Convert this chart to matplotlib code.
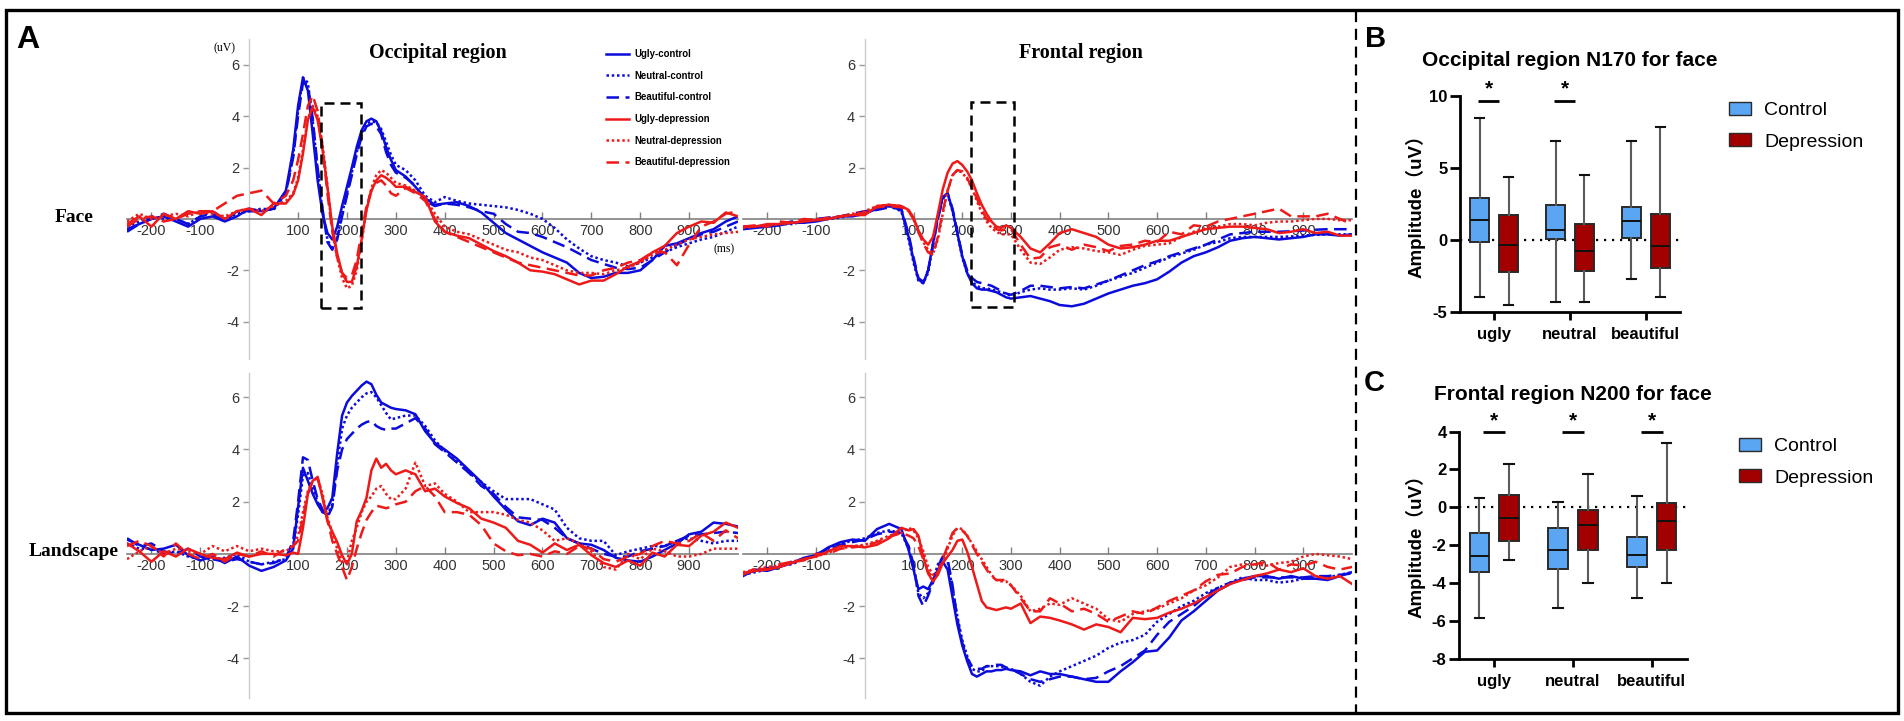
import matplotlib
matplotlib.use("Agg")
import matplotlib.pyplot as plt
from matplotlib.patches import Rectangle, Patch
from matplotlib.lines import Line2D

plt.rcParams['font.family'] = ['Liberation Sans', 'DejaVu Sans']
plt.rcParams['axes.unicode_minus'] = False

W, H = 1904, 721
NARROW = ['Liberation Sans Narrow', 'Liberation Sans', 'DejaVu Sans']
SERIF = ['Liberation Serif', 'DejaVu Serif']
BLUE = '#0b0bdc'
RED = '#ee1a1a'
CTRL = '#5aa6f2'
DEP = '#a20000'

# time points (ms)
t = [-250, -225, -200, -175, -150, -125, -100, -75, -50, -25, 0, 25, 50, 75,
     90, 100, 110, 120, 130, 140, 150, 160, 170, 180, 190, 200, 210, 220, 230, 240, 250, 260, 270, 280, 290, 300,
     320, 340, 360, 380, 400,
     425, 450, 475, 500, 525, 550, 575, 600, 625, 650, 675, 700, 725, 750, 775, 800, 825, 850, 875, 900, 925, 950, 975, 1000]

# occipital region, face (uV)
of_uc = [-0.4, -0.2, 0.0, 0.1, -0.1, -0.3, 0.0, 0.1, -0.1, 0.1, 0.4, 0.3, 0.4, 1.1,
         2.7, 4.4, 5.5, 5.0, 3.3, 1.5, 0.2, -0.55, -0.8, -0.3, 0.5, 1.25, 2.0, 2.8, 3.45, 3.8, 3.9, 3.8, 3.4, 2.8, 2.3, 1.9,
         1.65, 1.25, 0.8, 0.55, 0.6,
         0.65, 0.5, 0.25, -0.15, -0.55, -0.8, -1.05, -1.3, -1.5, -1.7, -2.1, -2.3, -2.25, -2.1, -2.1, -2.0, -1.6, -1.05, -0.95, -0.75, -0.55, -0.4, -0.1, 0.1]
of_nc = [-0.3, -0.1, 0.1, 0.0, 0.0, -0.2, 0.1, 0.3, 0.0, 0.2, 0.3, 0.4, 0.35, 1.0,
         2.5, 4.2, 5.5, 5.3, 3.8, 1.9, 0.3, -0.8, -1.2, -0.7, 0.2, 1.0, 1.8, 2.6, 3.3, 3.7, 3.8, 3.75, 3.5, 3.0, 2.5, 2.1,
         1.9, 1.5, 0.9, 0.65, 0.85,
         0.7, 0.6, 0.55, 0.5, 0.45, 0.35, 0.2, 0.0, -0.35, -0.8, -1.15, -1.45, -1.6, -1.7, -1.85, -1.7, -1.5, -1.3, -1.1, -0.95, -0.8, -0.7, -0.5, -0.3]
of_bc = [-0.5, -0.2, 0.0, 0.2, 0.0, -0.2, 0.1, 0.2, -0.1, 0.3, 0.3, 0.3, 0.4, 1.0,
         2.4, 4.0, 5.3, 5.2, 3.9, 2.0, 0.4, -0.9, -1.2, -0.8, 0.1, 0.9, 1.7, 2.5, 3.2, 3.6, 3.7, 3.6, 3.3, 2.6, 2.1, 1.8,
         1.6, 1.3, 0.7, 0.5, 0.6,
         0.55, 0.45, 0.3, 0.2, -0.2, -0.5, -0.55, -0.7, -0.9, -1.1, -1.35, -1.6, -1.75, -1.9, -1.95, -1.9, -1.6, -1.3, -1.0, -0.8, -0.6, -0.5, -0.3, -0.1]
of_ud = [-0.2, 0.1, -0.3, 0.2, 0.0, 0.3, 0.2, 0.3, 0.0, 0.3, 0.4, 0.15, 0.6, 0.6,
         0.95, 1.5, 2.55, 3.85, 4.35, 3.85, 2.7, 1.25, -0.3, -1.35, -2.1, -2.45, -2.45, -1.85, -0.8, 0.35, 1.1, 1.5, 1.7, 1.6, 1.45, 1.25,
         1.25, 1.05, 0.85, -0.1, -0.5,
         -0.65, -0.75, -1.0, -1.25, -1.45, -1.7, -2.0, -2.05, -2.15, -2.35, -2.55, -2.4, -2.4, -2.15, -1.85, -1.65, -1.3, -1.05, -0.55, -0.3, -0.1, -0.15, 0.25, 0.1]
of_nd = [-0.1, 0.2, 0.0, 0.1, 0.2, 0.1, 0.3, 0.2, 0.1, 0.3, 0.4, 0.3, 0.5, 0.7,
         1.0, 1.6, 2.7, 3.9, 4.4, 4.0, 2.9, 1.3, -0.4, -1.5, -2.3, -2.7, -2.6, -2.0, -0.9, 0.4, 1.2, 1.7, 1.9, 1.8, 1.6, 1.4,
         1.3, 1.1, 0.8, 0.2, -0.3,
         -0.5, -0.6, -0.8, -1.0, -1.2, -1.3, -1.5, -1.6, -1.8, -2.0, -2.1, -2.1, -2.15, -2.0, -1.9, -1.7, -1.4, -1.2, -1.0, -0.8, -0.7, -0.6, -0.55, -0.5]
of_bd = [-0.3, 0.0, 0.1, -0.1, 0.0, 0.2, 0.3, 0.3, 0.6, 0.9, 1.0, 1.1, 0.6, 0.9,
         1.5, 2.3, 3.3, 4.4, 4.8, 4.2, 2.8, 1.0, -0.5, -1.5, -2.1, -2.3, -2.2, -1.6, -0.5, 0.5, 1.1, 1.4, 1.5, 1.3, 1.0, 0.9,
         1.2, 1.0, 0.7, 0.0, -0.5,
         -0.7, -0.9, -1.1, -1.3, -1.5, -1.7, -1.8, -1.9, -2.0, -2.1, -2.2, -2.2, -2.0, -1.9, -1.7, -1.6, -1.3, -1.3, -1.8, -1.0, -0.3, -0.1, 0.2, 0.3]

# frontal region, face (uV)
ff_uc = [-0.4, -0.35, -0.3, -0.25, -0.15, -0.15, -0.1, 0.0, 0.1, 0.1, 0.2, 0.4, 0.5, 0.35,
         -0.7, -1.6, -2.35, -2.5, -2.0, -0.95, 0.1, 0.85, 1.0, 0.35, -0.55, -1.45, -2.1, -2.5, -2.7, -2.75, -2.75, -2.8, -2.85, -2.95, -3.05, -3.1,
         -3.05, -3.0, -3.1, -3.2, -3.35,
         -3.4, -3.3, -3.1, -2.9, -2.75, -2.6, -2.5, -2.35, -2.05, -1.7, -1.45, -1.3, -1.1, -0.85, -0.75, -0.7, -0.75, -0.8, -0.75, -0.7, -0.6, -0.6, -0.65, -0.6]
ff_nc = [-0.35, -0.3, -0.3, -0.2, -0.2, -0.1, -0.05, 0.0, 0.05, 0.15, 0.25, 0.4, 0.5, 0.3,
         -0.8, -1.7, -2.4, -2.5, -2.1, -1.0, 0.05, 0.8, 0.95, 0.3, -0.6, -1.5, -2.1, -2.45, -2.6, -2.7, -2.7, -2.75, -2.8, -2.85, -2.9, -3.0,
         -2.85, -2.75, -2.7, -2.75, -2.75,
         -2.7, -2.75, -2.6, -2.4, -2.25, -2.1, -1.9, -1.7, -1.5, -1.35, -1.2, -1.0, -0.9, -0.75, -0.7, -0.7, -0.7, -0.7, -0.68, -0.65, -0.62, -0.6, -0.6, -0.6]
ff_bc = [-0.3, -0.3, -0.25, -0.2, -0.1, -0.1, 0.0, 0.05, 0.1, 0.2, 0.3, 0.35, 0.45, 0.4,
         -0.6, -1.5, -2.3, -2.45, -2.0, -1.0, 0.0, 0.8, 1.0, 0.4, -0.5, -1.4, -2.0, -2.3, -2.45, -2.5, -2.55, -2.6, -2.7, -2.8, -2.9, -2.95,
         -2.8, -2.6, -2.6, -2.65, -2.7,
         -2.65, -2.7, -2.55, -2.4, -2.2, -2.0, -1.8, -1.65, -1.45, -1.3, -1.15, -1.0, -0.8, -0.6, -0.55, -0.5, -0.5, -0.5, -0.48, -0.45, -0.42, -0.4, -0.4, -0.4]
ff_ud = [-0.3, -0.3, -0.2, -0.2, -0.15, -0.1, -0.05, 0.0, 0.1, 0.15, 0.15, 0.5, 0.55, 0.5,
         0.35, 0.05, -0.45, -0.8, -1.0, -0.7, 0.2, 1.15, 1.8, 2.15, 2.25, 2.1, 1.85, 1.5, 1.0, 0.55, 0.2, -0.1, -0.3, -0.35, -0.25, -0.35,
         -0.7, -1.15, -1.3, -0.95, -0.55,
         -0.4, -0.55, -0.7, -1.0, -1.15, -1.1, -1.0, -0.85, -0.85, -0.7, -0.55, -0.4, -0.35, -0.3, -0.3, -0.35, -0.4, -0.55, -0.5, -0.4, -0.55, -0.5, -0.65, -0.65]
ff_nd = [-0.35, -0.3, -0.25, -0.2, -0.15, -0.1, 0.0, 0.0, 0.1, 0.2, 0.3, 0.5, 0.55, 0.5,
         0.3, 0.0, -0.5, -0.9, -1.2, -1.35, -0.8, 0.2, 1.1, 1.7, 1.9, 1.8, 1.55, 1.2, 0.7, 0.25, -0.1, -0.35, -0.5, -0.6, -0.6, -0.6,
         -1.2, -1.7, -1.75, -1.5, -1.2,
         -1.1, -1.15, -1.25, -1.3, -1.4, -1.2, -1.05, -1.0, -0.95, -0.7, -0.5, -0.35, -0.3, -0.2, -0.2, -0.25, -0.15, -0.1, -0.1, -0.05, 0.0, 0.0, -0.05, -0.05]
ff_bd = [-0.3, -0.25, -0.3, -0.1, -0.15, 0.0, -0.05, 0.05, 0.1, 0.15, 0.25, 0.45, 0.5, 0.45,
         0.3, 0.0, -0.5, -0.95, -1.3, -1.4, -0.7, 0.3, 1.1, 1.7, 1.9, 1.85, 1.6, 1.2, 0.8, 0.35, 0.0, -0.2, -0.4, -0.45, -0.4, -0.4,
         -1.0, -1.55, -1.5, -1.1, -1.0,
         -1.2, -1.0, -1.1, -1.25, -1.05, -1.0, -0.85, -0.9, -0.5, -0.6, -0.25, -0.3, -0.1, 0.0, 0.1, 0.2, 0.3, 0.4, 0.1, 0.1, 0.1, 0.2, 0.0, -0.2]

# occipital region, landscape (uV)
ol_uc = [0.55, 0.35, 0.15, 0.2, 0.35, -0.05, -0.25, -0.1, -0.35, -0.1, -0.45, -0.65, -0.5, -0.25,
         0.2, 1.8, 3.3, 2.8, 2.3, 1.9, 1.6, 1.75, 2.15, 3.85, 5.3, 5.8, 6.05, 6.25, 6.45, 6.6, 6.5, 6.1, 5.8, 5.7, 5.6, 5.55,
         5.5, 5.35, 4.7, 4.25, 4.0,
         3.65, 3.2, 2.75, 2.2, 1.7, 1.25, 1.1, 1.35, 1.2, 0.6, 0.4, 0.35, 0.15, -0.15, -0.25, -0.3, -0.1, 0.15, 0.4, 0.75, 0.85, 1.2, 1.15, 1.05]
ol_nc = [0.4, 0.2, 0.2, 0.0, 0.1, -0.1, -0.2, -0.2, -0.15, 0.0, -0.3, -0.4, -0.3, -0.2,
         0.3, 1.5, 3.0, 3.1, 2.5, 2.0, 1.6, 1.5, 1.9, 3.4, 4.8, 5.3, 5.6, 5.8, 6.0, 6.15, 6.2, 6.0, 5.7, 5.4, 5.15, 5.2,
         5.3, 5.3, 4.9, 4.35, 3.95,
         3.6, 3.1, 2.75, 2.4, 2.1, 2.1, 2.1, 1.9, 1.7, 1.0, 0.6, 0.5, 0.5, -0.05, 0.1, 0.2, 0.3, 0.3, 0.5, 0.6, 0.5, 0.4, 0.5, 0.5]
ol_bc = [0.6, 0.3, 0.4, 0.1, 0.0, 0.2, -0.1, -0.2, -0.3, -0.2, -0.3, -0.4, -0.35, -0.15,
         0.5, 2.0, 3.7, 3.6, 2.8, 2.1, 1.7, 1.4, 1.8, 3.2, 4.0, 4.4, 4.6, 4.8, 4.95, 5.05, 5.1, 4.9, 4.8, 4.75, 4.8, 4.8,
         5.0, 5.2, 4.8, 4.2, 3.9,
         3.5, 3.1, 2.6, 2.3, 1.8, 1.4, 1.35, 1.3, 1.0, 0.6, 0.4, 0.2, 0.0, -0.1, -0.1, 0.1, 0.2, 0.3, 0.5, 0.7, 0.75, 0.8, 0.85, 0.8]
ol_ud = [0.4, 0.1, -0.3, 0.1, -0.1, 0.2, 0.0, -0.15, -0.2, 0.05, -0.1, 0.0, 0.0, -0.05,
         0.05, 0.0, 1.0, 2.3, 2.8, 2.95, 2.15, 1.25, 0.85, 0.45, -0.05, -0.4, 0.0, 1.25, 1.65, 2.15, 3.2, 3.65, 3.3, 3.45, 3.2, 3.05,
         3.2, 3.05, 2.4, 2.5, 2.2,
         1.95, 1.75, 1.35, 1.2, 1.0, 0.5, 0.35, 0.05, 0.4, 0.15, 0.35, -0.05, -0.35, -0.5, -0.25, -0.45, 0.05, -0.1, 0.35, 0.3, 0.7, 0.85, 1.2, 1.0]
ol_nd = [-0.2, 0.1, 0.3, 0.0, 0.2, 0.1, 0.0, 0.3, 0.1, 0.3, 0.1, 0.2, 0.1, 0.1,
         0.3, 0.7, 1.6, 2.4, 2.8, 2.9, 2.3, 1.4, 0.8, 0.2, -0.3, -0.3, 0.5, 1.0, 1.6, 2.0, 2.2, 2.5, 2.6, 2.3, 2.1, 2.1,
         2.5, 3.5, 2.6, 2.7, 2.3,
         2.0, 1.6, 1.6, 1.6, 1.5, 1.3, 1.2, 0.9, 0.5, 0.6, 0.4, 0.1, -0.5, -0.6, 0.0, -0.2, 0.2, 0.1, -0.1, -0.1, 0.0, 0.2, 0.2, 0.2]
ol_bd = [0.3, 0.5, 0.3, -0.1, 0.4, 0.0, -0.2, 0.0, -0.3, 0.0, -0.1, 0.1, -0.1, 0.2,
         0.3, 0.5, 1.4, 2.3, 2.8, 2.9, 2.2, 1.3, 0.5, 0.0, -0.5, -1.0, -0.5, 0.2, 0.8, 1.3, 1.6, 1.85, 1.8, 1.75, 1.8, 1.9,
         2.0, 2.4, 2.6, 2.2, 1.6,
         1.6, 1.5, 1.1, 0.4, 0.1, -0.05, 0.0, -0.1, 0.1, 0.0, 0.3, 0.2, -0.2, -0.3, -0.1, 0.0, 0.3, 0.5, 0.4, 0.5, 0.8, 0.5, 0.9, 0.6]

# frontal region, landscape (uV)
fl_uc = [-0.85, -0.6, -0.65, -0.5, -0.35, -0.15, -0.05, 0.25, 0.45, 0.55, 0.5, 0.95, 1.15, 0.95,
         0.15, -0.6, -1.35, -1.25, -1.35, -1.0, -0.6, -0.3, -0.6, -1.65, -2.7, -3.5, -4.1, -4.6, -4.7, -4.6, -4.5, -4.5, -4.45, -4.45, -4.4, -4.45,
         -4.5, -4.65, -4.5, -4.6, -4.6,
         -4.7, -4.8, -4.9, -4.9, -4.5, -4.15, -3.75, -3.7, -3.2, -2.55, -2.2, -1.8, -1.4, -1.15, -0.95, -0.85, -0.85, -0.95, -0.85, -0.95, -0.95, -1.0, -0.85, -0.7]
fl_nc = [-0.8, -0.7, -0.6, -0.45, -0.4, -0.2, -0.1, 0.2, 0.4, 0.5, 0.6, 0.8, 0.9, 0.8,
         0.2, -0.5, -1.5, -1.7, -1.5, -1.0, -0.4, -0.15, -0.3, -1.3, -2.4, -3.3, -3.9, -4.4, -4.5, -4.5, -4.3, -4.3, -4.3, -4.3, -4.4, -4.4,
         -4.6, -4.9, -5.05, -4.7, -4.5,
         -4.3, -4.1, -3.9, -3.6, -3.4, -3.3, -3.1, -2.6, -2.3, -2.0, -1.8, -1.5, -1.3, -1.1, -0.9, -1.0, -1.0, -1.1, -1.05, -0.95, -0.9, -0.9, -0.8, -0.7]
fl_bc = [-0.75, -0.65, -0.55, -0.5, -0.3, -0.2, 0.0, 0.15, 0.35, 0.45, 0.55, 0.75, 0.85, 0.8,
         0.3, -0.4, -1.6, -2.0, -1.6, -1.1, -0.5, -0.1, -0.2, -1.2, -2.5, -3.4, -4.0, -4.3, -4.4, -4.4, -4.3, -4.3, -4.25, -4.25, -4.35, -4.4,
         -4.6, -4.8, -4.9, -4.8, -4.7,
         -4.7, -4.8, -4.75, -4.5, -4.3, -4.0, -3.7, -3.1, -2.6, -2.3, -2.0, -1.6, -1.3, -1.1, -1.0, -0.9, -0.9, -0.9, -0.9, -0.9, -0.85, -0.85, -0.8, -0.75]
fl_ud = [-0.75, -0.65, -0.6, -0.5, -0.35, -0.2, -0.1, 0.1, 0.3, 0.3, 0.25, 0.35, 0.6, 1.0,
         0.9, 0.95, 0.7, -0.1, -0.75, -1.05, -0.8, -0.35, -0.1, 0.15, 0.5, 0.55, 0.1, -0.5, -1.15, -1.8, -2.05, -2.1, -2.15, -2.1, -2.05, -2.1,
         -1.9, -2.65, -2.4, -2.45, -2.55,
         -2.7, -2.9, -2.7, -2.8, -3.0, -2.45, -2.5, -2.45, -2.25, -2.1, -1.9, -1.65, -1.4, -1.15, -1.0, -0.85, -0.75, -0.6, -0.7, -0.55, -0.85, -0.95, -0.85, -1.15]
fl_nd = [-0.7, -0.6, -0.5, -0.45, -0.3, -0.2, -0.1, 0.05, 0.2, 0.3, 0.35, 0.5, 0.7, 0.8,
         1.0, 0.9, 0.6, 0.1, -0.5, -0.8, -0.7, -0.3, 0.2, 0.7, 1.0, 0.95, 0.7, 0.4, 0.1, -0.2, -0.5, -0.8, -1.0, -1.05, -1.05, -1.2,
         -1.6, -2.2, -2.1, -1.9, -1.95,
         -1.7, -1.9, -2.1, -2.5, -2.6, -2.3, -2.2, -2.1, -1.9, -1.7, -1.4, -1.2, -0.9, -0.5, -0.4, -0.4, -0.45, -0.35, -0.3, -0.1, 0.0, -0.05, -0.1, -0.2]
fl_bd = [-0.8, -0.55, -0.6, -0.4, -0.3, -0.25, 0.0, 0.0, 0.2, 0.25, 0.3, 0.45, 0.65, 0.8,
         0.7, 0.6, 0.3, -0.2, -0.7, -0.9, -0.7, -0.2, 0.3, 0.8, 1.0, 0.9, 0.7, 0.35, 0.0, -0.3, -0.6, -0.85, -1.0, -1.0, -1.0, -1.2,
         -1.7, -2.2, -2.2, -1.7, -1.9,
         -2.2, -2.1, -2.3, -2.6, -2.4, -2.2, -2.3, -2.05, -1.8, -1.6, -1.4, -1.05, -0.8, -0.75, -0.5, -0.4, -0.3, -0.6, -0.4, -0.45, -0.3, -0.5, -0.6, -0.5]

legend_labels = ['Ugly-control', 'Neutral-control', 'Beautiful-control',
                 'Ugly-depression', 'Neutral-depression', 'Beautiful-depression']

# box plot summaries: whisker low, q1, median, q3, whisker high for ugly / neutral / beautiful
categories = ['ugly', 'neutral', 'beautiful']
n170_ctrl_lo = [-3.94, -4.28, -2.69]
n170_ctrl_q1 = [-0.16, 0.07, 0.14]
n170_ctrl_med = [1.41, 0.72, 1.34]
n170_ctrl_q3 = [2.92, 2.45, 2.31]
n170_ctrl_hi = [8.47, 6.9, 6.9]
n170_dep_lo = [-4.49, -4.33, -3.94]
n170_dep_q1 = [-2.22, -2.15, -1.94]
n170_dep_med = [-0.32, -0.74, -0.42]
n170_dep_q3 = [1.74, 1.09, 1.81]
n170_dep_hi = [4.38, 4.49, 7.82]
n170_sig = [True, True, False]

n200_ctrl_lo = [-5.86, -5.3, -4.78]
n200_ctrl_q1 = [-3.42, -3.24, -3.14]
n200_ctrl_med = [-2.56, -2.26, -2.49]
n200_ctrl_q3 = [-1.38, -1.11, -1.59]
n200_ctrl_hi = [0.48, 0.27, 0.61]
n200_dep_lo = [-2.78, -4.01, -3.98]
n200_dep_q1 = [-1.76, -2.24, -2.24]
n200_dep_med = [-0.54, -0.91, -0.73]
n200_dep_q3 = [0.65, -0.13, 0.22]
n200_dep_hi = [2.29, 1.77, 3.4]
n200_sig = [True, True, True]


fig = plt.figure(figsize=(W / 100, H / 100), dpi=100)


def box(left, top, w, h):
    return [left / W, 1 - (top + h) / H, w / W, h / H]


def fx(x):
    return x / W


def fy(y):
    return 1 - y / H


line_styles = ['-', (0, (1, 1.1)), (0, (5, 2.6))]


def erp_panel(left, top, w, h, ylim, curves, rect=None):
    ax = fig.add_axes(box(left, top, w, h))
    ax.patch.set_alpha(0)
    handles = []
    for i, y in enumerate(curves):
        ln, = ax.plot(t, y, color=BLUE if i < 3 else RED, ls=line_styles[i % 3],
                      lw=1.8, zorder=3)
        handles.append(ln)
    ax.set_xlim(-250, 1000)
    ax.set_ylim(*ylim)
    ax.spines['top'].set_visible(False)
    ax.spines['right'].set_visible(False)
    ax.spines['left'].set_position(('data', 0))
    ax.spines['bottom'].set_position(('data', 0))
    ax.spines['left'].set_color('#cccccc')
    ax.spines['bottom'].set_color('#808080')
    ax.spines['left'].set_linewidth(1.0)
    ax.spines['bottom'].set_linewidth(1.2)
    xt = [-200, -100, 100, 200, 300, 400, 500, 600, 700, 800, 900]
    yt = [-4, -2, 2, 4, 6]
    ax.set_xticks(xt, [str(v) for v in xt], fontfamily=NARROW, fontsize=10.5, color='#333333')
    ax.set_yticks(yt, [str(v) for v in yt], fontfamily=NARROW, fontsize=10.5, color='#333333')
    ax.tick_params(axis='x', direction='in', length=5, width=1, color='#808080', pad=4)
    ax.tick_params(axis='y', direction='out', length=4, width=1, color='#999999', pad=3)
    if rect is not None:
        x0, x1, y0, y1 = rect
        ax.add_patch(Rectangle((x0, y0), x1 - x0, y1 - y0, fill=False, ec='black',
                               lw=1.8, ls=(0, (4, 2.4)), zorder=4))
    return ax, handles


ax_tl, hs = erp_panel(127, 39, 611, 320, (-5.45, 7.0),
                      [of_uc, of_nc, of_bc, of_ud, of_nd, of_bd], rect=(147, 229, -3.46, 4.51))
ax_tr, _ = erp_panel(743, 39, 609, 320, (-5.45, 7.0),
                     [ff_uc, ff_nc, ff_bc, ff_ud, ff_nd, ff_bd], rect=(218, 307, -3.42, 4.55))
ax_bl, _ = erp_panel(127, 373, 611, 325, (-5.52, 6.93),
                     [ol_uc, ol_nc, ol_bc, ol_ud, ol_nd, ol_bd])
ax_br, _ = erp_panel(743, 373, 609, 325, (-5.52, 6.93),
                     [fl_uc, fl_nc, fl_bc, fl_ud, fl_nd, fl_bd])

ax_tl.legend(hs, legend_labels, loc='upper left', bbox_to_anchor=(fx(606), fy(49)),
             bbox_transform=fig.transFigure, frameon=False,
             prop=dict(family=NARROW, weight='bold', size=6.9),
             handlelength=2.4, handletextpad=0.6, labelspacing=1.22,
             borderpad=0, borderaxespad=0)

fig.text(fx(438), fy(53), 'Occipital region', family=SERIF, weight='bold', size=14.5,
         ha='center', va='center')
fig.text(fx(1081), fy(53), 'Frontal region', family=SERIF, weight='bold', size=14.5,
         ha='center', va='center')
fig.text(fx(224), fy(48), '(uV)', family=SERIF, size=8.5, ha='center', va='center')
fig.text(fx(724), fy(249), '(ms)', family=SERIF, size=8.5, ha='center', va='center')
fig.text(fx(74), fy(217), 'Face', family=SERIF, weight='bold', size=14, ha='center', va='center')
fig.text(fx(74), fy(551), 'Landscape', family=SERIF, weight='bold', size=14, ha='center', va='center')


def box_panel(left, top, w, h, ylim, yticks, ctrl, dep, sig, bar_y, star_y, bar_dx, leg_xy):
    ax = fig.add_axes(box(left, top, w, h))
    for stats, offset, color in ((ctrl, -0.19, CTRL), (dep, 0.19, DEP)):
        lo, q1, med, q3, hi = stats
        bstats = [dict(whislo=lo[i], q1=q1[i], med=med[i], q3=q3[i], whishi=hi[i], fliers=[])
                  for i in range(len(categories))]
        ax.bxp(bstats, positions=[i + offset for i in range(len(categories))], widths=0.25,
               patch_artist=True, showfliers=False,
               boxprops=dict(facecolor=color, edgecolor='#2a2a2a', linewidth=1.4),
               medianprops=dict(color='#111111', linewidth=1.4),
               whiskerprops=dict(color='#5a5a5a', linewidth=1.5),
               capprops=dict(color='#111111', linewidth=1.5))
    ax.axhline(0, color='black', ls=(0, (1, 2.6)), lw=1.6, zorder=0)
    ax.set_xlim(-0.45, 2.45)
    ax.set_ylim(*ylim)
    ax.set_yticks(yticks, [str(v) for v in yticks], fontweight='bold', fontsize=12)
    ax.set_xticks(range(len(categories)), categories, fontweight='bold', fontsize=12)
    ax.spines['top'].set_visible(False)
    ax.spines['right'].set_visible(False)
    for s in ('left', 'bottom'):
        ax.spines[s].set_linewidth(2.0)
    ax.tick_params(axis='y', length=7, width=2, pad=2)
    ax.tick_params(axis='x', length=6, width=2, pad=5)
    for i, s in enumerate(sig):
        if s:
            ax.plot([i + bar_dx - 0.14, i + bar_dx + 0.14], [bar_y, bar_y], color='black',
                    lw=2, clip_on=False, solid_capstyle='butt')
            ax.text(i + bar_dx, star_y, '*', ha='center', va='center', fontsize=15,
                    fontweight='bold', clip_on=False)
    ax.legend(handles=[Patch(facecolor=CTRL, edgecolor='#2a2a2a', label='Control'),
                       Patch(facecolor=DEP, edgecolor='#2a2a2a', label='Depression')],
              loc='upper left', bbox_to_anchor=leg_xy, bbox_transform=fig.transFigure,
              frameon=False, fontsize=14, handlelength=1.15, handleheight=0.65,
              handletextpad=0.65, labelspacing=0.72, borderpad=0, borderaxespad=0)
    return ax


ax_b = box_panel(1460, 96, 220, 216, (-5, 10), [-5, 0, 5, 10],
                 (n170_ctrl_lo, n170_ctrl_q1, n170_ctrl_med, n170_ctrl_q3, n170_ctrl_hi),
                 (n170_dep_lo, n170_dep_q1, n170_dep_med, n170_dep_q3, n170_dep_hi),
                 n170_sig, 9.67, 10.5, -0.07, (fx(1729), fy(102)))
ax_c = box_panel(1459, 431.5, 228, 227.5, (-8, 4), [-8, -6, -4, -2, 0, 2, 4],
                 (n200_ctrl_lo, n200_ctrl_q1, n200_ctrl_med, n200_ctrl_q3, n200_ctrl_hi),
                 (n200_dep_lo, n200_dep_q1, n200_dep_med, n200_dep_q3, n200_dep_hi),
                 n200_sig, 3.97, 4.55, 0.0, (fx(1739), fy(438)))

fig.text(fx(1570), fy(61), 'Occipital region N170 for face', weight='bold', size=15,
         ha='center', va='center')
fig.text(fx(1573), fy(394), 'Frontal region N200 for face', weight='bold', size=15,
         ha='center', va='center')
for yc in (202, 542):
    fig.text(fx(1415), fy(yc), 'Amplitude（uV）', weight='bold', size=13.5, rotation=90,
             ha='center', va='center', family=['Liberation Sans', 'Noto Sans CJK SC'])

fig.text(fx(16), fy(48), 'A', weight='bold', size=23, ha='left', va='baseline')
fig.text(fx(1365), fy(47), 'B', weight='bold', size=21, ha='left', va='baseline')
fig.text(fx(1364), fy(391), 'C', weight='bold', size=21, ha='left', va='baseline')

# outer frame and divider
fig.add_artist(Rectangle((fx(6), fy(713)), (1898 - 6) / W, (713 - 10) / H,
                         transform=fig.transFigure, fill=False, ec='black', lw=2.4))
fig.add_artist(Line2D([fx(1356), fx(1356)], [fy(11), fy(712)], transform=fig.transFigure,
                      color='black', lw=1.6, ls=(0, (5, 3))))

fig.savefig('out.png', dpi=100)
